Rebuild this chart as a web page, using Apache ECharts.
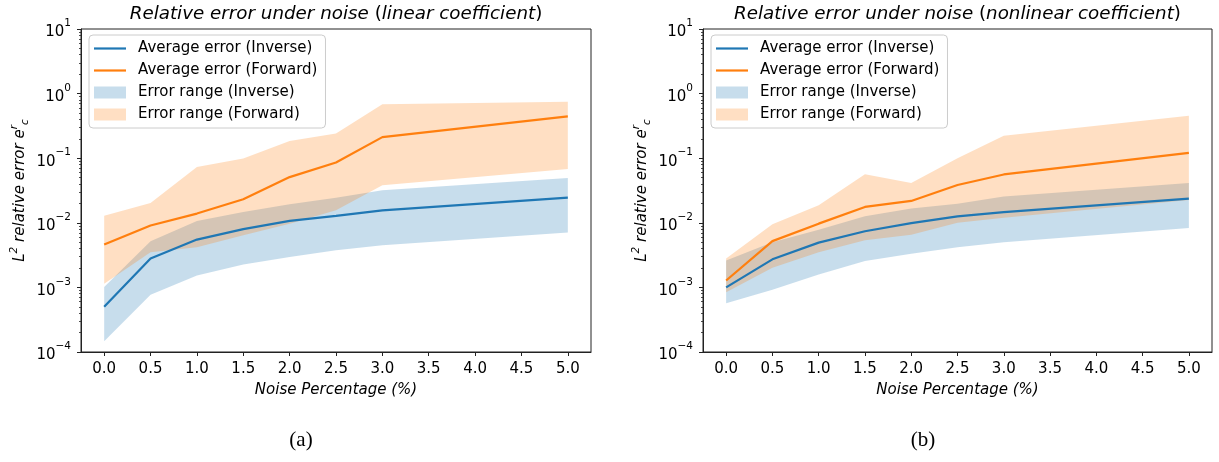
<!DOCTYPE html>
<html><head><meta charset="utf-8">
<script src="https://cdn.jsdelivr.net/npm/echarts@6/dist/echarts.min.js"></script>
<style>html,body{margin:0;padding:0;background:#fff}#c{width:1219px;height:462px}</style>
</head><body><div id="c"></div>
<script>
// ---- data ----
const noise = [0, 0.5, 1.0, 1.5, 2.0, 2.5, 3.0, 5.0];
const xTicks = [0, 0.5, 1, 1.5, 2, 2.5, 3, 3.5, 4, 4.5, 5];
const yTicks = [1e-4, 1e-3, 1e-2, 1e-1, 1, 10];
const minorMantissas = [2, 3, 4, 5, 6, 7, 8, 9];
const minorExponents = [-4, -3, -2, -1, 0];

// (a) linear coefficient
const linInvAvg = [5.0e-4, 2.8e-3, 5.5e-3, 8.0e-3, 1.07e-2, 1.28e-2, 1.56e-2, 2.45e-2];
const linInvLo  = [1.47e-4, 7.7e-4, 1.53e-3, 2.27e-3, 2.95e-3, 3.75e-3, 4.48e-3, 7.05e-3];
const linInvHi  = [1.01e-3, 5.2e-3, 1.07e-2, 1.47e-2, 1.94e-2, 2.45e-2, 3.2e-2, 4.95e-2];
const linFwdAvg = [4.6e-3, 9.1e-3, 1.39e-2, 2.31e-2, 5.1e-2, 8.6e-2, 0.212, 0.443];
const linFwdLo  = [1.14e-3, 3.5e-3, 4.2e-3, 6.4e-3, 9.7e-3, 1.56e-2, 3.8e-2, 6.8e-2];
const linFwdHi  = [1.28e-2, 2.03e-2, 7.3e-2, 9.9e-2, 0.185, 0.241, 0.687, 0.746];

// (b) nonlinear coefficient
const nlInvAvg = [1.0e-3, 2.72e-3, 4.93e-3, 7.4e-3, 9.9e-3, 1.26e-2, 1.46e-2, 2.37e-2];
const nlInvLo  = [5.7e-4, 9.2e-4, 1.59e-3, 2.56e-3, 3.33e-3, 4.2e-3, 5.0e-3, 8.3e-3];
const nlInvHi  = [2.62e-3, 5.0e-3, 7.8e-3, 1.26e-2, 1.66e-2, 1.98e-2, 2.55e-2, 4.14e-2];
const nlFwdAvg = [1.28e-3, 5.2e-3, 9.7e-3, 1.76e-2, 2.18e-2, 3.85e-2, 5.6e-2, 0.121];
const nlFwdLo  = [8.45e-4, 2.02e-3, 3.5e-3, 5.35e-3, 6.56e-3, 1.0e-2, 1.2e-2, 2.25e-2];
const nlFwdHi  = [2.8e-3, 9.5e-3, 1.87e-2, 5.65e-2, 4.14e-2, 1.0e-1, 0.222, 0.453];

const titles = ['linear coefficient', 'nonlinear coefficient'];
const captions = ['(a)', '(b)'];
const names = ['Average error (Inverse)', 'Average error (Forward)', 'Error range (Inverse)', 'Error range (Forward)'];

// ---- styling ----
const FONT = 'DejaVu Sans';
const BLUE = '#1f77b4', ORANGE = '#ff7f0e';
const BLUE_A = 'rgba(31,119,180,0.25)', ORANGE_A = 'rgba(255,127,14,0.25)';
const AX = '#222';
const LINE_ICON = 'path://M0,0L32,0L32,2.2L0,2.2Z';

const minorTicks = [];
minorExponents.forEach(e => minorMantissas.forEach(m => minorTicks.push(m * Math.pow(10, e))));

const grids = [
  {left: 81, top: 29, width: 510, height: 323},
  {left: 703, top: 29, width: 509, height: 323}
];

function supLabel(v) {
  const e = Math.round(Math.log10(v));
  return '{b|10}{s|' + (e < 0 ? '\u2212' + (-e) : e) + '}';
}

const xAxes = grids.map((g, i) => ({
  type: 'value', gridIndex: i, min: -0.25, max: 5.25,
  axisLine: {show: true, onZero: false, lineStyle: {color: AX, width: 1}},
  axisTick: {show: true, customValues: xTicks, length: 4, lineStyle: {color: AX, width: 1}},
  axisLabel: {customValues: xTicks, formatter: v => v.toFixed(1), fontSize: 15, color: '#000', margin: 10, fontFamily: FONT},
  splitLine: {show: false},
  name: 'Noise Percentage (%)', nameLocation: 'middle', nameGap: 31,
  nameTextStyle: {fontSize: 15, fontStyle: 'italic', color: '#000', fontFamily: FONT}
}));

const yAxes = [];
grids.forEach((g, i) => {
  yAxes.push({
    type: 'log', logBase: 10, gridIndex: i, min: 1e-4, max: 10, position: 'left',
    axisLine: {show: true, onZero: false, lineStyle: {color: AX, width: 1}},
    axisTick: {show: true, customValues: yTicks, length: 4, lineStyle: {color: AX, width: 1}},
    axisLabel: {customValues: yTicks, formatter: supLabel, margin: 10, color: '#000',
      rich: {
        b: {fontSize: 15, fontFamily: FONT, color: '#000', verticalAlign: 'bottom', lineHeight: 22},
        s: {fontSize: 10.5, fontFamily: FONT, color: '#000', verticalAlign: 'top', lineHeight: 22}
      }},
    splitLine: {show: false},
    name: '{i|L}{p|2}{i| relative error e}{p|r}{d|c}', nameLocation: 'middle', nameGap: 50,
    nameTextStyle: {
      color: '#000',
      rich: {
        i: {fontSize: 15, fontStyle: 'italic', fontFamily: FONT, color: '#000', verticalAlign: 'middle', lineHeight: 22},
        p: {fontSize: 10.5, fontStyle: 'italic', fontFamily: FONT, color: '#000', verticalAlign: 'top', lineHeight: 22},
        d: {fontSize: 10.5, fontStyle: 'italic', fontFamily: FONT, color: '#000', verticalAlign: 'bottom', lineHeight: 22}
      }
    }
  });
  yAxes.push({
    type: 'log', logBase: 10, gridIndex: i, min: 1e-4, max: 10, position: 'left', offset: 0,
    axisLine: {show: false, onZero: false},
    axisTick: {show: true, customValues: minorTicks, length: 2, lineStyle: {color: AX, width: 0.8}},
    axisLabel: {show: false},
    splitLine: {show: false}
  });
});

function band(name, gi, lo, hi, color) {
  return {
    type: 'custom', name: name, xAxisIndex: gi, yAxisIndex: gi * 2, z: 1, silent: true,
    itemStyle: {color: color},
    encode: {x: 0, y: [1, 2]},
    data: noise.map((x, k) => [x, lo[k], hi[k]]),
    renderItem: function (params, api) {
      if (params.dataIndex !== 0) return;
      const top = noise.map((x, k) => api.coord([x, hi[k]]));
      const bot = noise.map((x, k) => api.coord([x, lo[k]])).reverse();
      return {type: 'polygon', shape: {points: top.concat(bot)}, style: {fill: color}};
    }
  };
}
function line(name, gi, vals, color) {
  return {
    type: 'line', name: name, xAxisIndex: gi, yAxisIndex: gi * 2, z: 3, symbol: 'none',
    data: noise.map((x, k) => [x, vals[k]]),
    lineStyle: {color: color, width: 2.2}, itemStyle: {color: color}
  };
}

const sets = [
  [linInvAvg, linInvLo, linInvHi, linFwdAvg, linFwdLo, linFwdHi],
  [nlInvAvg, nlInvLo, nlInvHi, nlFwdAvg, nlFwdLo, nlFwdHi]
];
const series = [];
sets.forEach((s, gi) => {
  series.push(band(names[2], gi, s[1], s[2], BLUE_A));
  series.push(band(names[3], gi, s[4], s[5], ORANGE_A));
  series.push(line(names[0], gi, s[0], BLUE));
  series.push(line(names[1], gi, s[3], ORANGE));
});

const legends = grids.map((g, i) => ({
  orient: 'vertical', left: g.left + 8, top: 35, itemWidth: 32, itemHeight: 12, itemGap: 7,
  padding: [6, 8, 6, 5], backgroundColor: 'rgba(255,255,255,0.8)', borderColor: '#cccccc', borderWidth: 1, borderRadius: 4,
  selectedMode: false, symbolKeepAspect: true,
  textStyle: {fontSize: 15, fontFamily: FONT, color: '#000', padding: [0, 0, 0, 7]},
  data: [
    {name: names[0], icon: LINE_ICON, itemStyle: {color: BLUE, borderWidth: 0}},
    {name: names[1], icon: LINE_ICON, itemStyle: {color: ORANGE, borderWidth: 0}},
    {name: names[2], icon: 'rect', itemStyle: {color: BLUE_A, borderWidth: 0}},
    {name: names[3], icon: 'rect', itemStyle: {color: ORANGE_A, borderWidth: 0}}
  ]
}));

const graphics = [];
grids.forEach((g, i) => {
  graphics.push({
    type: 'text', x: g.left + g.width / 2, y: 14, silent: true,
    style: {
      text: '{i|Relative error under noise }{n|(}{i|' + titles[i] + '}{n|)}',
      align: 'center', verticalAlign: 'middle',
      rich: {
        i: {fontSize: 18.3, fontStyle: 'italic', fontFamily: FONT, fill: '#000'},
        n: {fontSize: 18.3, fontFamily: FONT, fill: '#000'}
      }
    }
  });
  graphics.push({
    type: 'text', x: [301, 923][i], y: 440, silent: true,
    style: {text: captions[i], align: 'center', verticalAlign: 'middle', fontSize: 21, fontFamily: 'Liberation Serif', fill: '#000'}
  });
});

const chart = echarts.init(document.getElementById('c'), null, {renderer: 'canvas'});
chart.setOption({
  animation: false,
  backgroundColor: '#fff',
  textStyle: {fontFamily: FONT},
  grid: grids.map(g => Object.assign({show: true, borderColor: AX, borderWidth: 1, backgroundColor: 'transparent'}, g)),
  xAxis: xAxes,
  yAxis: yAxes,
  legend: legends,
  series: series,
  graphic: graphics
});
</script>
</body></html>
